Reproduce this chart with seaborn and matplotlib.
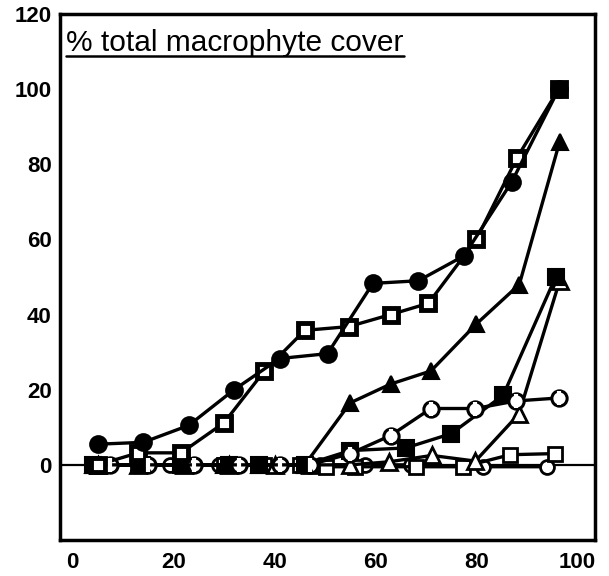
import matplotlib
matplotlib.use("Agg")
import matplotlib.pyplot as plt
import seaborn as sns
import numpy as np
from matplotlib.lines import Line2D

sns.set_style("white")
plt.rcParams['font.family'] = ['Liberation Sans', 'DejaVu Sans']

# ---- data ----
filled_circle_x = [5, 14, 23, 32, 41, 50.5, 59.5, 68.5, 77.5, 87, 96.3]
filled_circle_y = [5.5, 6, 10.5, 20, 28.3, 29.6, 48.3, 49, 55.6, 75.3, 100]

dot_square_x = [5, 13, 21.5, 30, 38, 46, 54.7, 63, 70.5, 80, 88, 96.3]
dot_square_y = [0, 3.2, 3.2, 11.2, 25, 35.8, 36.8, 40, 43, 60, 81.6, 100]

filled_tri_x = [4, 14, 22, 30, 37, 46, 55, 63, 71, 80, 88.5, 96.5]
filled_tri_y = [0, 0, 0, 0, 0, 0, 16.5, 21.5, 25, 37.5, 48, 86]

half_circle_x = [7.5, 15, 24, 33, 41, 47, 55, 63, 71, 79.8, 87.8, 96.3]
half_circle_y = [0, 0, 0, 0, 0, 0, 3, 7.8, 15, 15, 17, 17.8]

filled_square_x = [4, 13.8, 21.4, 31, 37, 46, 55, 66, 75, 85.3, 95.7]
filled_square_y = [0, 0, 0, 0, 0, 0, 3.8, 4.5, 8.3, 18.5, 50]

open_tri_x = [5, 13, 22, 31, 40, 47, 55, 62.6, 71.2, 79.8, 88.4, 96.5]
open_tri_y = [0, 0, 0, 0, 0, 0, 0, 0.8, 2.5, 1, 13.5, 49]

open_square_x = [4, 13, 22, 30, 38, 45, 50.3, 56, 68, 77.4, 86.7, 95.6]
open_square_y = [0, 0, 0, 0, 0, 0, -0.5, -0.5, -0.5, -0.5, 2.7, 3]

open_circle_x = [6, 19.3, 29, 40.6, 49, 58, 67, 81.3, 94]
open_circle_y = [0, 0, 0, 0, 0, 0, 0, -0.5, -0.5]

x_ticks = [0, 20, 40, 60, 80, 100]
y_ticks = [0, 20, 40, 60, 80, 100, 120]
title_text = "% total macrophyte cover"

fig = plt.figure(figsize=(6.09, 5.76), dpi=100)
ax = fig.add_axes([60/609, 36/576, 535/609, 526/576])

ax.axhline(0, color='black', lw=1.6, zorder=1)

lw = 2.4
common = dict(color='black', lw=lw, estimator=None, sort=False, ax=ax, legend=False)

series = [
    (open_circle_x, open_circle_y, dict(marker='o', ms=10, mfc='white', mec='black', mew=2)),
    (open_square_x, open_square_y, dict(marker='s', ms=10, mfc='white', mec='black', mew=2)),
    (open_tri_x, open_tri_y, dict(marker='^', ms=11, mfc='white', mec='black', mew=2)),
    (filled_square_x, filled_square_y, dict(marker='s', ms=11, mfc='black', mec='black', mew=1.5)),
    (half_circle_x, half_circle_y, dict(marker='o', ms=11, mfc='white', mec='black', mew=2.2)),
    (filled_tri_x, filled_tri_y, dict(marker='^', ms=12, mfc='black', mec='black', mew=1.5)),
    (dot_square_x, dot_square_y, dict(marker='s', ms=10, mfc='white', mec='black', mew=3.5)),
    (filled_circle_x, filled_circle_y, dict(marker='o', ms=12, mfc='black', mec='black', mew=1.5)),
]
for xs, ys, kw in series:
    sns.lineplot(x=xs, y=ys, **common, **kw)

# vertical bar inside half-filled circles
sns.lineplot(x=half_circle_x, y=half_circle_y, marker='|', ms=10, mew=3,
             color='black', lw=0, estimator=None, sort=False, ax=ax, legend=False)

ax.set_xlim(-2.5, 103.5)
ax.set_ylim(-20, 120)
ax.set_xticks(x_ticks)
ax.set_yticks(y_ticks)
ax.set_xticklabels([str(v) for v in x_ticks])
ax.set_yticklabels([str(v) for v in y_ticks])
ax.tick_params(axis='both', direction='out', length=3, width=1.5, labelsize=16,
               colors='black', pad=3)
ax.tick_params(axis='x', pad=6)
for s in ax.spines.values():
    s.set_color('black')
    s.set_linewidth(2.5)
for lab in ax.get_xticklabels() + ax.get_yticklabels():
    lab.set_fontweight('bold')
ax.set_xlabel('')
ax.set_ylabel('')

t = ax.text(0.012, 0.972, title_text, transform=ax.transAxes, fontsize=21.5,
            ha='left', va='top', color='black')
fig.canvas.draw()
bb = t.get_window_extent().transformed(fig.transFigure.inverted())
fig.add_artist(Line2D([bb.x0, bb.x1], [bb.y0 + 0.002, bb.y0 + 0.002],
                      transform=fig.transFigure, color='black', lw=1.8))

fig.savefig('out.png', dpi=100)
